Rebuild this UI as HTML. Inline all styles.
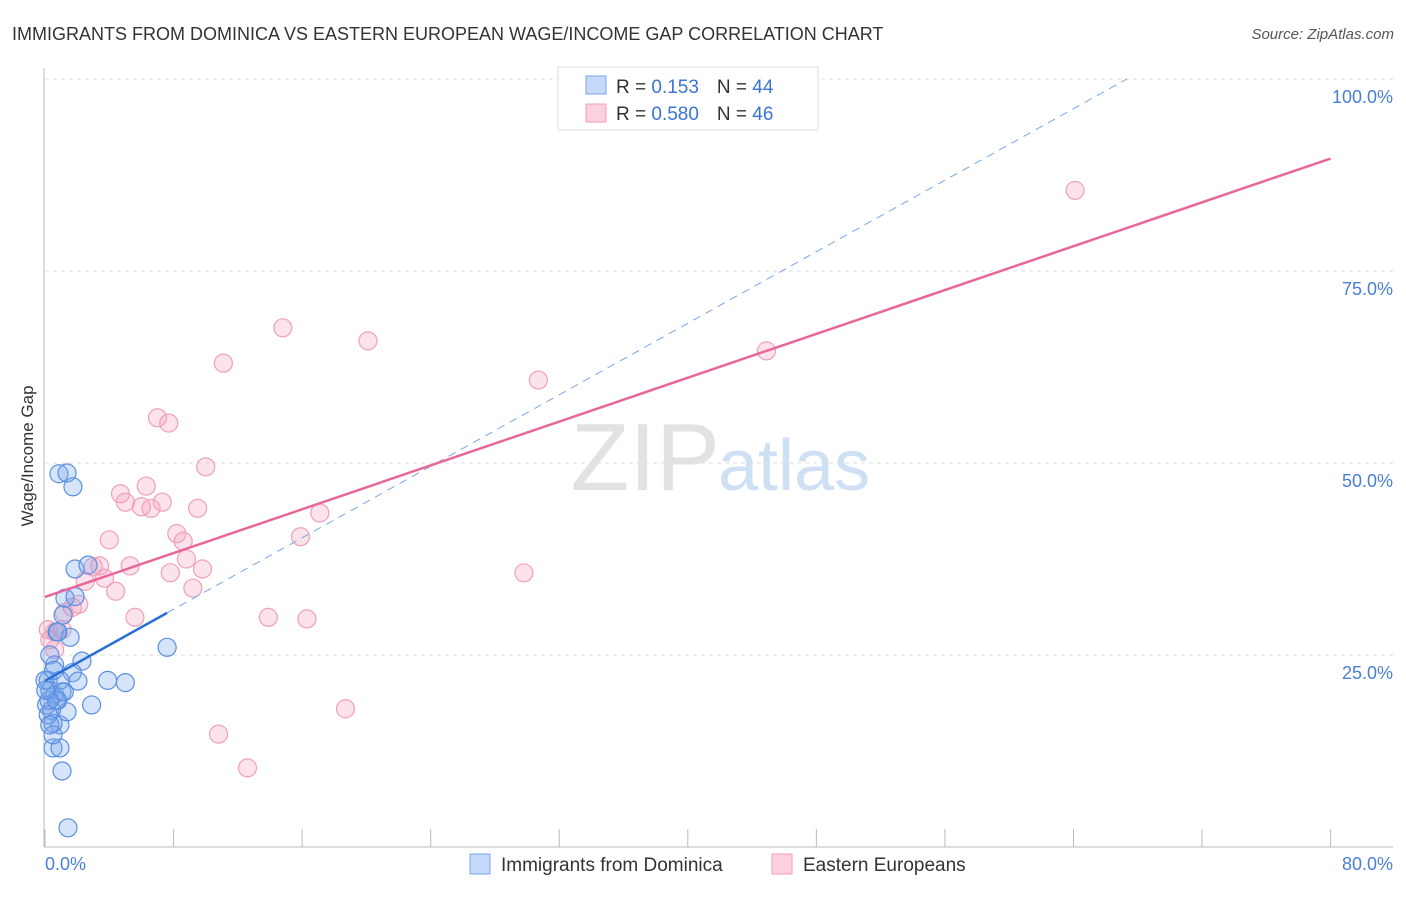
<!DOCTYPE html>
<html><head><meta charset="utf-8"><style>
body{margin:0;background:#fff;font-family:"Liberation Sans",sans-serif}
svg text{font-family:"Liberation Sans",sans-serif}
</style></head><body>
<svg width="1406" height="892" viewBox="0 0 1406 892">
<text x="12" y="40" font-size="18" fill="#333">IMMIGRANTS FROM DOMINICA VS EASTERN EUROPEAN WAGE/INCOME GAP CORRELATION CHART</text>
<text x="1394" y="39" font-size="15" fill="#555" font-style="italic" text-anchor="end">Source: ZipAtlas.com</text>
<g id="grid"></g>
<text x="720" y="490" font-size="96" fill="#e2e2e2" text-anchor="end" font-family="Liberation Serif">ZIP</text>
<text x="718" y="490" font-size="72" fill="#cfe0f5">atlas</text>
<line x1="44" y1="68" x2="44" y2="847" stroke="#bbb"/>
<line x1="44" y1="847" x2="1393" y2="847" stroke="#bbb"/>
<g id="xticks"></g>
<g id="pts"></g>
<g id="trends"></g>
<text x="33" y="456" font-size="17" fill="#333" text-anchor="middle" transform="rotate(-90 33 456)">Wage/Income Gap</text>
<text x="45" y="870" font-size="18" fill="#4a7fd6">0.0%</text>
<text x="1393" y="870" font-size="18" fill="#4a7fd6" text-anchor="end">80.0%</text>
<g>
<rect x="558" y="67" width="260" height="63" fill="#fff" stroke="#ddd"/>
<rect x="586" y="76" width="20" height="18" fill="#c5dafb" stroke="#7aa6ea"/>
<rect x="586" y="104" width="20" height="18" fill="#fcd0dd" stroke="#f0a0b8"/>
<text x="616" y="93" font-size="19" fill="#333">R = <tspan fill="#3a74d4"> 0.153</tspan><tspan dx="18">N = </tspan><tspan fill="#3a74d4">44</tspan></text>
<text x="616" y="120" font-size="19" fill="#333">R = <tspan fill="#3a74d4">0.580</tspan><tspan dx="18">N = </tspan><tspan fill="#3a74d4">46</tspan></text>
</g>
<g>
<rect x="470" y="854" width="20" height="20" fill="#c5dafb" stroke="#7aa6ea"/>
<text x="501" y="871" font-size="19" fill="#333">Immigrants from Dominica</text>
<rect x="772" y="854" width="20" height="20" fill="#fcd0dd" stroke="#f0a0b8"/>
<text x="803" y="871" font-size="19" fill="#333">Eastern Europeans</text>
</g>
</svg>
<script>
const yTicks=[25,50,75,100];
const yTickLabels=["25.0%","50.0%","75.0%","100.0%"];
const xTicks=[0,8,16,24,32,40,48,56,64,72,80];
const blueX=[0.87,1.37,1.74,1.87,2.68,1.24,1.87,1.12,0.75,1.56,2.3,7.6,3.9,5.0,2.9,1.7,2.05,0.5,0.93,1.06,1.43,0.93,1.37,0.5,0.2,0.3,0.6,0.8,0.4,0.1,1.06,0.6,0.3,0.93,0.2,0.5,0.8,0,1.2,0.7,0.3,0.25,0.05,0.55];
const blueY=[48.6,48.7,46.9,36.2,36.7,32.4,32.6,30.2,28.0,27.3,24.2,26.0,21.7,21.4,18.5,22.7,21.6,12.9,12.9,9.9,2.5,15.9,17.6,16.1,21.7,20.4,19.8,19.1,17.8,18.5,20.2,23.7,25,21.7,17.2,14.6,28,21.7,20.2,19.1,15.9,19.1,20.4,23];
const pinkX=[64.1,44.9,30.7,20.1,14.8,11.1,7.0,7.7,10.0,4.7,6.3,5.0,7.3,6.0,6.6,9.5,17.1,8.2,8.6,15.9,4.0,8.8,9.8,7.8,29.8,5.3,3.4,3.0,3.7,2.5,4.4,9.2,5.6,13.9,16.3,2.1,1.7,1.2,0.6,0.3,0.6,18.7,10.8,12.6,1.06,0.2];
const pinkY=[85.5,64.6,60.8,65.9,67.6,63.0,55.9,55.2,49.5,46.0,47.0,44.9,44.9,44.3,44.1,44.1,43.5,40.8,39.8,40.4,40.0,37.5,36.2,35.7,35.7,36.6,36.6,36.5,35.0,34.6,33.3,33.7,29.9,29.9,29.7,31.6,31.2,30.5,28.0,27.0,25.7,18.0,14.7,10.3,28.3,28.3];
const NS="http://www.w3.org/2000/svg";
const X=v=>45+v*16.07, Y=v=>847-v*7.68;
function mk(t,a,p){const e=document.createElementNS(NS,t);for(const k in a)e.setAttribute(k,a[k]);document.getElementById(p).appendChild(e);return e;}
yTicks.forEach((t,i)=>{
 const l=mk('line',{x1:45,x2:1393,y1:Y(t),y2:Y(t),stroke:'#ddd','stroke-dasharray':'4,4'},'grid');
 
 
 const tx=mk('text',{x:1393,y:Y(t)+24,'font-size':18,fill:'#4a7fd6','text-anchor':'end'},'grid');
 tx.textContent=yTickLabels[i];
 
 
});
xTicks.forEach(t=>{
 const l=mk('line',{x1:X(t),x2:X(t),y1:829,y2:847,stroke:'#bbb'},'xticks');
 
 
});
function fit(xs,ys){const n=xs.length;let mx=0,my=0;for(let i=0;i<n;i++){mx+=xs[i];my+=ys[i];}mx/=n;my/=n;let sxy=0,sxx=0;for(let i=0;i<n;i++){sxy+=(xs[i]-mx)*(ys[i]-my);sxx+=(xs[i]-mx)**2;}const b=sxy/sxx;return [my-b*mx,b];}
function pts(xs,ys,fill,stroke,name){xs.forEach((x,i)=>{
 const c=mk('circle',{cx:X(x),cy:Y(ys[i]),r:9,fill:fill,stroke:stroke,'stroke-width':1.2},'pts');
 
 
});}
pts(pinkX,pinkY,'rgba(244,160,188,0.3)','#f0a0b8','pink-point');
pts(blueX,blueY,'rgba(120,165,235,0.3)','#5b8fe0','blue-point');
const bf=fit(blueX,blueY), pf=fit(pinkX,pinkY);
const bmax=Math.max(...blueX);
const xEnd=Math.min(80,(100-bf[0])/bf[1]);
let l=mk('line',{x1:X(bmax),y1:Y(bf[0]+bf[1]*bmax),x2:X(xEnd),y2:Y(bf[0]+bf[1]*xEnd),stroke:'#7aa6ea','stroke-width':1,'stroke-dasharray':'8,6'},'trends');


l=mk('line',{x1:X(0),y1:Y(bf[0]),x2:X(bmax),y2:Y(bf[0]+bf[1]*bmax),stroke:'#2a6fd8','stroke-width':2.5},'trends');


l=mk('line',{x1:X(0),y1:Y(pf[0]),x2:X(80),y2:Y(pf[0]+pf[1]*80),stroke:'#e8679a','stroke-width':2.5},'trends');


</script>
</body></html>
